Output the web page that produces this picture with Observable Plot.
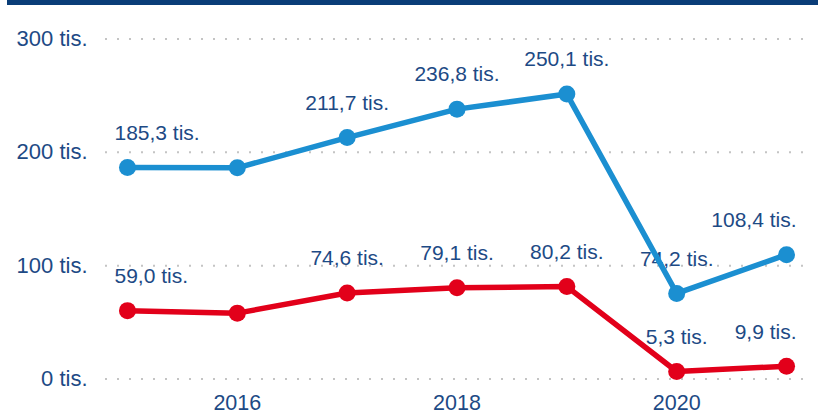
<!DOCTYPE html>
<html>
<head>
<meta charset="utf-8">
<script src="https://cdn.jsdelivr.net/npm/d3@7"></script>
<script src="https://cdn.jsdelivr.net/npm/@observablehq/plot@0.6"></script>
<style>
  html, body { margin: 0; padding: 0; background: #fff; }
  #wrap { position: relative; width: 818px; height: 414px; }
  #bar { position: absolute; top: 0; left: 7px; width: 811px; height: 5px; background: #0a3d78; }
</style>
</head>
<body>
<div id="wrap"><div id="bar"></div></div>
<script>
const years = [2015, 2016, 2017, 2018, 2019, 2020, 2021];
const blueValues = [185.3, 185.0, 211.7, 236.8, 250.1, 74.2, 108.4];
const redValues = [59.0, 56.8, 74.6, 79.1, 80.2, 5.3, 9.9];
const blueLabels = ["185,3 tis.", null, "211,7 tis.", "236,8 tis.", "250,1 tis.", "74,2 tis.", "108,4 tis."];
const redLabels = ["59,0 tis.", null, "74,6 tis.", "79,1 tis.", "80,2 tis.", "5,3 tis.", "9,9 tis."];
const yTicks = [0, 100, 200, 300];
const xTicks = [2016, 2018, 2020];

const blueColor = "#1b8fd1";
const redColor = "#e2001a";
const textColor = "#1d4a85";

const blueRows = years.map((y, i) => ({year: y, value: blueValues[i], label: blueLabels[i], idx: i}));
const redRows = years.map((y, i) => ({year: y, value: redValues[i], label: redLabels[i], idx: i}));
const allLabels = [...blueRows, ...redRows].filter(d => d.label);
const last = years.length - 1;

const textOpts = {x: "year", y: "value", text: "label", fill: textColor, dy: -36, lineAnchor: "middle", fontSize: 21};

const chart = Plot.plot({
  width: 818,
  height: 414,
  marginTop: 38.5,
  marginBottom: 35.5,
  marginLeft: 105,
  marginRight: 10,
  style: {fontFamily: "'Liberation Sans', Arial, sans-serif", fontSize: "21px", color: textColor, background: "transparent"},
  x: {domain: [2014.8, 2021.2]},
  y: {domain: [0, 300]},
  marks: [
    Plot.gridY({ticks: yTicks, stroke: "#c4c4c4", strokeOpacity: 1, strokeWidth: 2, strokeDasharray: "2,10"}),
    Plot.axisY({ticks: yTicks, tickSize: 0, tickPadding: 18, tickFormat: d => d + " tis.", label: null, fill: textColor, fontSize: 22}),
    Plot.axisX({ticks: xTicks, tickSize: 0, tickPadding: 16, tickFormat: d => String(d), label: null, fill: textColor, fontSize: 21.5}),
    Plot.text(allLabels, {...textOpts, filter: d => d.idx === 0, textAnchor: "start", dx: -13}),
    Plot.text(allLabels, {...textOpts, filter: d => d.idx > 0 && d.idx < last, textAnchor: "middle"}),
    Plot.text(allLabels, {...textOpts, filter: d => d.idx === last, textAnchor: "end", dx: 10}),
    Plot.line(redRows, {x: "year", y: "value", stroke: redColor, strokeWidth: 5.5, dy: -1.5}),
    Plot.dot(redRows, {x: "year", y: "value", fill: redColor, r: 8.5, dy: -1.5}),
    Plot.line(blueRows, {x: "year", y: "value", stroke: blueColor, strokeWidth: 5.5, dy: -1.5}),
    Plot.dot(blueRows, {x: "year", y: "value", fill: blueColor, r: 8.5, dy: -1.5})
  ]
});
document.getElementById("wrap").appendChild(chart);
</script>
</body>
</html>
